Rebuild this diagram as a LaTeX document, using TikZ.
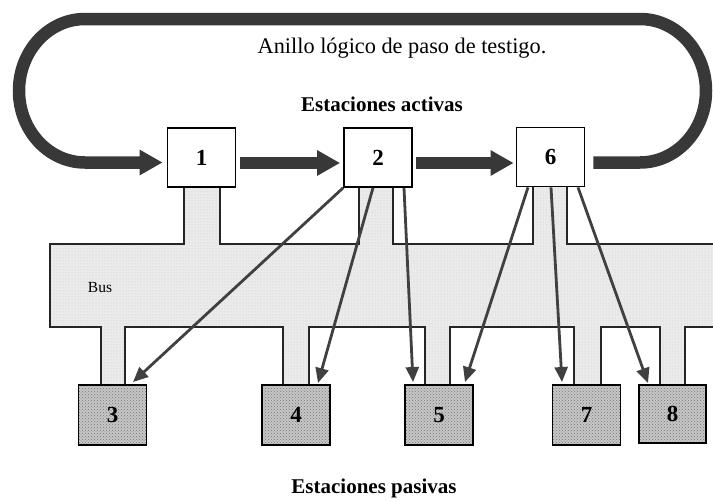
\documentclass[tikz,border=0pt]{standalone}
\usepackage{fontspec}
\setmainfont{Liberation Serif}
\usetikzlibrary{arrows.meta,patterns,calc}
\begin{document}
\begin{tikzpicture}[x=1pt,y=1pt,
  band/.style={line width=12.5pt, draw=black!78},
  bandtip/.style={-{Triangle[length=23pt,width=24pt]}},
  activebox/.style={draw, line width=1.7pt, fill=white, minimum width=68pt, minimum height=59pt, inner sep=0pt, font=\fontsize{23}{23}\selectfont\bfseries},
  passivebox/.style={draw, line width=1.9pt, preaction={fill=black!22}, pattern=crosshatch dots, pattern color=black!55, minimum width=68pt, minimum height=60pt, inner sep=0pt, font=\fontsize{23}{23}\selectfont\bfseries},
  ptr/.style={draw=black!75, line width=2.8pt, -{Triangle[length=15pt,width=13pt]}},
  busline/.style={line width=1.6pt, draw=black!85},
  bigtext/.style={font=\fontsize{22.3}{25}\selectfont},
  headtext/.style={font=\fontsize{21}{25}\selectfont\bfseries}
]
\useasboundingbox (0,0) rectangle (713,-501);

% bus fill
\path[preaction={fill=black!8}, pattern=dots, pattern color=black!22]
  (50,-244) -- (184,-244) -- (184,-187) -- (220,-187) -- (220,-244) -- (359,-244) -- (359,-187) -- (393,-187) -- (393,-244)
  -- (533,-244) -- (533,-186) -- (567,-186) -- (567,-244) -- (713,-244) -- (713,-327)
  -- (685,-327) -- (685,-385) -- (660,-385) -- (660,-327) -- (601,-327) -- (601,-385) -- (574,-385) -- (574,-327)
  -- (450,-327) -- (450,-385) -- (425,-385) -- (425,-327) -- (309,-327) -- (309,-385) -- (283,-385) -- (283,-327)
  -- (125,-327) -- (125,-385) -- (101,-385) -- (101,-327) -- (50,-327) -- cycle;
% bus outline
\draw[busline]
  (713,-244) -- (567,-244) -- (567,-186) (533,-186) -- (533,-244) -- (393,-244) -- (393,-187)
  (359,-187) -- (359,-244) -- (220,-244) -- (220,-187) (184,-187) -- (184,-244) -- (50,-244) -- (50,-327)
  -- (101,-327) -- (101,-385) (125,-385) -- (125,-327) -- (283,-327) -- (283,-385) (309,-385) -- (309,-327)
  -- (425,-327) -- (425,-385) (450,-385) -- (450,-327) -- (574,-327) -- (574,-385) (601,-385) -- (601,-327)
  -- (660,-327) -- (660,-385) (685,-385) -- (685,-327) -- (713,-327);

% active stations
\node[activebox] (n1) at (201.5,-157.5) {1};
\node[activebox] (n2) at (378,-157.5) {2};
\node[activebox] (n6) at (550.5,-157) {6};

% passive stations
\node[passivebox] (n3) at (112.5,-415) {3};
\node[passivebox] (n4) at (296,-415) {4};
\node[passivebox] (n5) at (439,-415) {5};
\node[passivebox] (n7) at (586.5,-415) {7};
\node[passivebox, minimum width=67pt, minimum height=58pt] (n8) at (672.5,-414) {8};

% token ring
\draw[band, bandtip] ($(n6.east)+(8,-5.5)$) -- (640,-162.5)
  arc[start angle=-90, end angle=90, x radius=66pt, y radius=71.75pt] -- (85,-19)
  arc[start angle=90, end angle=270, x radius=66pt, y radius=71.75pt] -- ($(n1.west)+(-4,-5)$);
\draw[band, bandtip, line width=12pt] ($(n1.east)+(3.5,-5.5)$) -- ($(n2.west)+(-3,-5.5)$);
\draw[band, bandtip, line width=12pt] ($(n2.east)+(3,-5.5)$) -- ($(n6.west)+(-2,-6)$);

% access arrows
\draw[ptr] (n2.south west) -- ($(n3.north)+(20.5,2)$);
\draw[ptr] ($(n2.south)+(-5,0)$) -- ($(n4.north)+(22,1)$);
\draw[ptr] ($(n2.south)+(26,0)$) -- ($(n5.north)+(-26,2)$);
\draw[ptr] ($(n6.south)+(-22.5,0)$) -- ($(n5.north)+(26,2)$);
\draw[ptr] ($(n6.south)+(0.5,0)$) -- ($(n7.north)+(-24.5,2)$);
\draw[ptr] ($(n6.south)+(27.5,0)$) -- ($(n8.north)+(-24.5,1)$);

% texts
\node[bigtext] (title) at (402,-48) {Anillo lógico de paso de testigo.};
\node[headtext] (act) at (382,-104) {Estaciones activas};
\node[headtext] (pas) at (374,-488) {Estaciones pasivas};
\node[font=\fontsize{15.5}{17}\selectfont] (bus) at (100,-287) {Bus};
\end{tikzpicture}
\end{document}
